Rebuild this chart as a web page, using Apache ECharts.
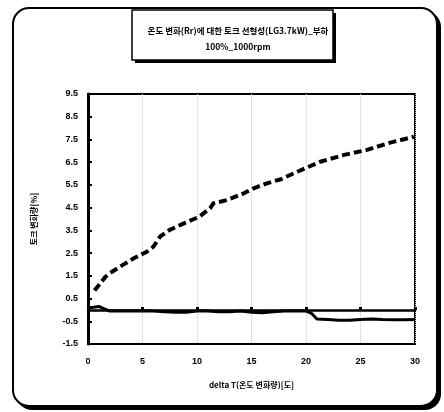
<!DOCTYPE html>
<html>
<head>
<meta charset="utf-8">
<script src="https://cdn.jsdelivr.net/npm/echarts@6/dist/echarts.min.js"></script>
<style>
  html, body { margin: 0; padding: 0; background: #fff; }
  #chart { width: 444px; height: 412px; }
</style>
</head>
<body>
<div id="chart"></div>
<script>
// ======================
// DATA
// ======================

const titleText = '온도 변화(Rr)에 대한 토크 선형성(LG3.7kW)_부하\n100%_1000rpm';
const xAxisName = 'delta T(온도 변화량)[도]';
const yAxisName = '토크 변화량[%]';

// 점선 시리즈 (토크 변화량 증가)
const dashX = [0.6, 1.1, 1.6, 2.2, 3.2, 4.2, 5.4, 6.0, 6.6, 7.5, 8.8, 10.2, 11.2, 11.5, 12.8, 14.3, 15.2, 16.4, 17.7, 19.2, 21.3, 23.5, 25.6, 27.5, 29.9];
const dashY = [0.85, 1.15, 1.46, 1.68, 1.98, 2.27, 2.56, 2.78, 3.22, 3.52, 3.81, 4.10, 4.47, 4.69, 4.84, 5.13, 5.35, 5.57, 5.75, 6.08, 6.52, 6.82, 7.04, 7.33, 7.62];

// 실선 시리즈 (0 부근)
const solidX = [0, 0.5, 1, 1.5, 2, 3, 4, 5, 6, 7, 8, 9, 10, 11, 12, 13, 14, 15, 16, 17, 18, 19, 20, 20.5, 21, 22, 23, 24, 25, 26, 27, 28, 29, 30];
const solidY = [0.1, 0.12, 0.15, 0.05, -0.05, -0.05, -0.05, -0.04, -0.05, -0.08, -0.1, -0.1, -0.05, -0.05, -0.08, -0.08, -0.05, -0.1, -0.12, -0.08, -0.05, -0.05, -0.05, -0.15, -0.4, -0.42, -0.45, -0.45, -0.42, -0.4, -0.42, -0.43, -0.43, -0.42];

const xMin = 0, xMax = 30, xStep = 5;
const yMin = -1.5, yMax = 9.5, yStep = 1;

// ======================
// OPTION
// ======================

const FONT = '"Liberation Sans", Arial, sans-serif';
const FONT_KR = '"Noto Sans CJK KR", sans-serif';
const pairs = (xs, ys) => xs.map((x, i) => [x, ys[i]]);

const chart = echarts.init(document.getElementById('chart'), null, { renderer: 'canvas' });

const option = {
    backgroundColor: '#fff',
    animation: false,
    title: {
        text: titleText,
        left: 233,
        top: 18,
        textAlign: 'center',
        textStyle: {
            fontFamily: FONT_KR,
            fontSize: 8.5,
            fontWeight: 'bold',
            color: '#000',
            lineHeight: 16
        }
    },
    graphic: [
        // 바깥 테두리 (그림자 포함)
        { type: 'rect', z: -10, silent: true, shape: { x: 16, y: 11, width: 425, height: 399, r: 16 }, style: { fill: '#000' } },
        { type: 'rect', z: -9, silent: true, shape: { x: 13, y: 8, width: 424, height: 398, r: 16 }, style: { fill: '#fff', stroke: '#000', lineWidth: 2 } },
        // 제목 박스
        { type: 'rect', z: -8, silent: true, shape: { x: 135, y: 13, width: 201, height: 50 }, style: { fill: '#000' } },
        { type: 'rect', z: -7, silent: true, shape: { x: 132, y: 10, width: 201, height: 50 }, style: { fill: '#fff', stroke: '#000', lineWidth: 1.5 } }
    ],
    grid: {
        left: 88,
        right: 29,
        top: 94,
        bottom: 68,
        show: true,
        borderColor: '#000',
        borderWidth: 2,
        backgroundColor: 'transparent'
    },
    xAxis: [
        {
            type: 'value',
            min: xMin,
            max: xMax,
            interval: xStep,
            position: 'bottom',
            name: xAxisName,
            nameLocation: 'middle',
            nameGap: 37,
            nameTextStyle: { fontFamily: FONT_KR, fontSize: 8, fontWeight: 'bold', color: '#000' },
            axisLine: { onZero: false, lineStyle: { color: '#000', width: 2 } },
            axisTick: { show: false },
            axisLabel: { fontFamily: FONT, fontSize: 9, fontWeight: 'bold', color: '#000', margin: 13 },
            splitLine: { show: true, lineStyle: { color: '#c8c8c8', type: 'dotted', width: 1 } }
        },
        {
            type: 'value',
            min: xMin,
            max: xMax,
            interval: xStep,
            position: 'bottom',
            axisLine: { onZero: true, lineStyle: { color: '#000', width: 2.5 } },
            axisTick: { show: true, inside: true, length: 3, lineStyle: { color: '#000', width: 3 } },
            axisLabel: { show: false },
            splitLine: { show: false }
        }
    ],
    yAxis: {
        type: 'value',
        min: yMin,
        max: yMax,
        interval: yStep,
        name: yAxisName,
        nameLocation: 'middle',
        nameRotate: 90,
        nameGap: 50,
        nameTextStyle: { fontFamily: FONT_KR, fontSize: 8, fontWeight: 'bold', color: '#000' },
        axisLine: { show: true, lineStyle: { color: '#000', width: 3 } },
        axisTick: { show: true, inside: true, length: 4, lineStyle: { color: '#000', width: 2 } },
        axisLabel: {
            fontFamily: FONT,
            fontSize: 9,
            fontWeight: 'bold',
            color: '#000',
            margin: 10,
            formatter: v => v.toFixed(1)
        },
        splitLine: { show: false }
    },
    series: [
        {
            name: 'dash',
            type: 'line',
            xAxisIndex: 0,
            data: pairs(dashX, dashY),
            showSymbol: false,
            lineStyle: { color: '#000', width: 4, type: [8, 4] },
            z: 3
        },
        {
            name: 'solid',
            type: 'line',
            xAxisIndex: 0,
            data: pairs(solidX, solidY),
            showSymbol: false,
            lineStyle: { color: '#000', width: 3 },
            z: 3
        }
    ]
};

chart.setOption(option);
</script>
</body>
</html>
